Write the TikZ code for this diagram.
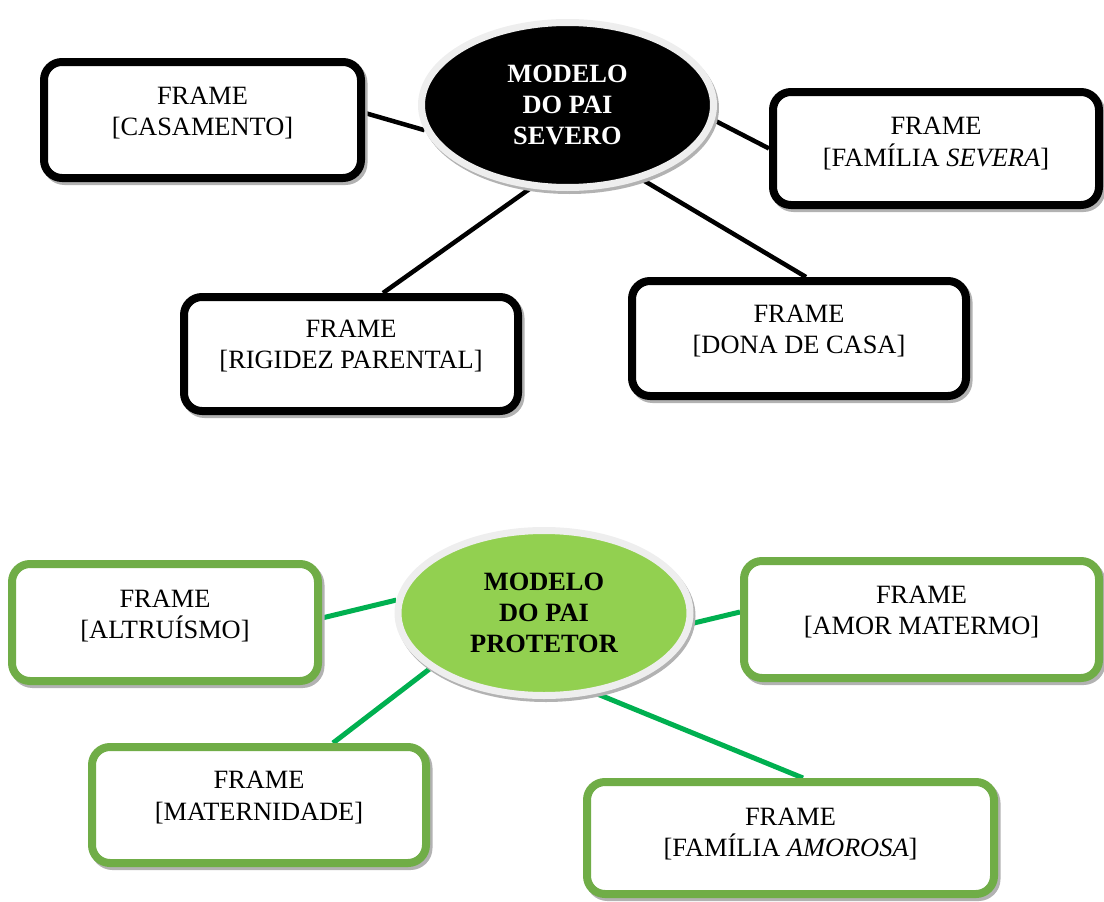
\documentclass[tikz,border=0pt]{standalone}
\usepackage{fontspec}
\setmainfont{Liberation Serif}
\usetikzlibrary{shapes.geometric, backgrounds}
\definecolor{boxgreen}{HTML}{70AD47}
\definecolor{linegreen}{HTML}{00B050}
\definecolor{fillgreen}{HTML}{92D050}
\definecolor{ringgray}{HTML}{EEEEEE}
\tikzset{
    framebox/.style={
        rectangle,
        rounded corners=18pt,
        line width=8pt,
        fill=white,
        inner sep=0pt,
        preaction={draw=black!30, line width=8pt, transform canvas={shift={(2.5pt,-3pt)}}}
    },
    blackbox/.style={framebox, draw=black},
    greenbox/.style={framebox, draw=boxgreen},
    boxtext/.style={align=center, inner sep=0pt, font=\fontsize{26.4}{31.5}\selectfont},
    model/.style={
        ellipse,
        draw=ringgray,
        line width=7pt,
        minimum width=292pt,
        minimum height=165pt,
        inner sep=0pt,
        align=center,
        font=\bfseries\fontsize{26.4}{31}\selectfont,
        preaction={draw=black!30, line width=7pt, transform canvas={shift={(2pt,-3pt)}}}
    },
    blackline/.style={draw=black, line width=4.5pt},
    greenline/.style={draw=linegreen, line width=5pt}
}
\begin{document}
\begin{tikzpicture}[x=1pt, y=-1pt]
\useasboundingbox (0,0) rectangle (1104,902);

% pai severo
\node[model, fill=black, text=white] (severo) at (567.5,105) {MODELO\\DO PAI\\SEVERO};
\node[blackbox, minimum width=317pt, minimum height=116pt] (cas) at (202.5,120) {};
\node[boxtext] (cas-t) at ([yshift=7pt]cas.center) {FRAME\\{}[CASAMENTO]};
\node[blackbox, minimum width=326pt, minimum height=113pt] (famsev) at (936,148.5) {};
\node[boxtext] (famsev-t) at ([yshift=5pt]famsev.center) {FRAME\\{}[FAMÍLIA \textit{SEVERA}]};
\node[blackbox, minimum width=334pt, minimum height=114pt] (rig) at (351,354) {};
\node[boxtext] (rig-t) at ([yshift=8pt]rig.center) {FRAME\\{}[RIGIDEZ PARENTAL]};
\node[blackbox, minimum width=334pt, minimum height=115pt] (dona) at (799,338.5) {};
\node[boxtext] (dona-t) at ([yshift=7.5pt]dona.center) {FRAME\\{}[DONA DE CASA]};

% pai protetor
\node[model, fill=fillgreen, text=black] (protetor) at (544,613) {MODELO\\DO PAI\\PROTETOR};
\node[greenbox, minimum width=306pt, minimum height=117pt] (alt) at (165,622.5) {};
\node[boxtext] (alt-t) at ([yshift=6.5pt]alt.center) {FRAME\\{}[ALTRUÍSMO]};
\node[greenbox, minimum width=355pt, minimum height=117pt] (amor) at (921.5,619.5) {};
\node[boxtext] (amor-t) at ([yshift=7.5pt]amor.center) {FRAME\\{}[AMOR MATERMO]};
\node[greenbox, minimum width=334pt, minimum height=116pt] (mat) at (259,805) {};
\node[boxtext] (mat-t) at ([yshift=7.5pt]mat.center) {FRAME\\{}[MATERNIDADE]};
\node[greenbox, minimum width=407pt, minimum height=112pt] (amo) at (790.5,838) {};
\node[boxtext] (amo-t) at ([yshift=4pt]amo.center) {FRAME\\{}[FAMÍLIA \textit{AMOROSA}]};

\begin{scope}[on background layer]
\draw[blackline] (severo.190) -- ([yshift=7pt]cas.east);
\draw[blackline] (severo.354) -- (famsev.west);
\draw[blackline] (severo.246) -- ([xshift=32pt]rig.north);
\draw[blackline] (severo.315) -- ([xshift=7pt]dona.north);

\draw[greenline] (protetor.175) -- ([yshift=4.5pt]alt.east);
\draw[greenline] (protetor.356) -- ([yshift=7.5pt]amor.west);
\draw[greenline] (protetor.206) -- ([xshift=74pt]mat.north);
\draw[greenline] (protetor.303) -- ([xshift=12.5pt]amo.north);
\end{scope}
\end{tikzpicture}
\end{document}
